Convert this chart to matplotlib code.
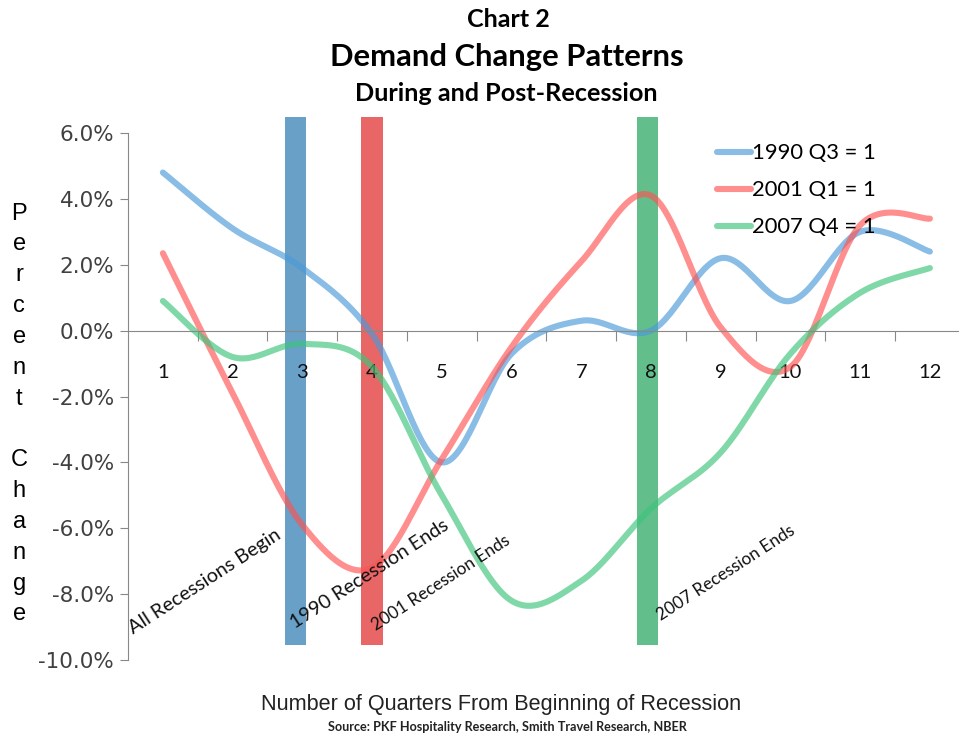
import matplotlib.pyplot as plt
import numpy as np

quarters = list(range(1, 13))
q1990 = [4.8, 3.1, 1.9, -0.1, -4.0, -0.7, 0.3, 0.0, 2.2, 0.9, 3.0, 2.4]
q2001 = [2.35, -1.9, -5.9, -7.2, -3.9, -0.5, 2.1, 4.1, 0.1, -1.1, 3.2, 3.4]
q2007 = [0.9, -0.8, -0.4, -1.1, -5.0, -8.2, -7.6, -5.4, -3.7, -0.7, 1.15, 1.9]
series_names = ['1990 Q3 = 1', '2001 Q1 = 1', '2007 Q4 = 1']

event_quarters = [2.9, 4.0, 7.95]
event_low, event_high = -9.55, 6.48
event_labels = ['All Recessions Begin', '1990 Recession Ends',
                '2001 Recession Ends', '2007 Recession Ends']
event_label_pos = [(0.57, -9.21), (2.89, -9.06), (4.06, -9.12), (8.14, -8.82)]
event_label_size = [14.2, 14.2, 12.4, 12.4]

yticks = [6, 4, 2, 0, -2, -4, -6, -8, -10]

line_colors = ['#4a9ad8', '#ff5252', '#3cc47a']
bar_colors = ['#68a0c8', '#e86666', '#62bf8c']

CAL = ['Lato', 'DejaVu Sans']


def smooth(xs, ys, n=30):
    # excel-ish smoothed line: bezier with catmull-rom control points
    p = np.column_stack([xs, ys]).astype(float)
    p = np.vstack([p[0], p, p[-1]])
    t = np.linspace(0, 1, n)[:, None]
    out = []
    for i in range(1, len(p) - 2):
        p0, p1, p2, p3 = p[i - 1], p[i], p[i + 1], p[i + 2]
        c1 = p1 + (p2 - p0) / 6
        c2 = p2 - (p3 - p1) / 6
        seg = ((1 - t) ** 3) * p1 + 3 * ((1 - t) ** 2) * t * c1 + 3 * (1 - t) * t ** 2 * c2 + t ** 3 * p2
        out.append(seg if i == 1 else seg[1:])
    out = np.vstack(out)
    return out[:, 0], out[:, 1]


fig = plt.figure(figsize=(9.59, 7.34), dpi=100)
ax = fig.add_axes([0.1335, 0.1008, 0.8725, 0.718])

for xq, c in zip(event_quarters, bar_colors):
    ax.bar(xq, event_high - event_low, bottom=event_low, width=0.31,
           color=c, zorder=1, clip_on=False)

for vals, c, name in zip([q1990, q2001, q2007], line_colors, series_names):
    sx, sy = smooth(quarters, vals)
    ax.plot(sx, sy, color=c, lw=4.4, alpha=0.65, solid_capstyle='round',
            label=name, zorder=2)

ax.set_xlim(0.5, 12.5)
ax.set_ylim(-10, 6)
ax.set_yticks(yticks)
ax.set_yticklabels(['%.1f%%' % v for v in yticks], fontsize=15.5, color='#404040')

ax.spines['top'].set_visible(False)
ax.spines['right'].set_visible(False)
ax.spines['left'].set_color('#888888')
ax.spines['bottom'].set_color('#888888')
ax.spines['bottom'].set_position(('data', 0))
ax.tick_params(axis='y', length=6, color='#888888', pad=4)

ax.set_xticks(np.arange(1.5, 12.5, 1.0))
ax.set_xticklabels([])
ax.tick_params(axis='x', which='major', length=7, color='#888888', direction='out')
ax.set_xticks(quarters, minor=True)
ax.set_xticklabels([str(q) for q in quarters], minor=True,
                   fontsize=14.5, family=CAL, color='#111111')
ax.tick_params(axis='x', which='minor', length=0, pad=24)

for txt, (tx, ty), fs in zip(event_labels, event_label_pos, event_label_size):
    ax.text(tx, ty, txt, rotation=33, rotation_mode='anchor', ha='left',
            va='baseline', fontsize=fs, family=CAL, color='#111111', zorder=3)

leg = ax.legend(loc='upper left', bbox_to_anchor=(0.68, 1.018), frameon=False,
                handlelength=1.55, handletextpad=0.05, labelspacing=0.78,
                prop={'family': CAL, 'size': 15.8})

fig.text(0.53, 0.973, 'Chart 2', ha='center', va='center', fontsize=18,
         fontweight='bold', family=CAL)
fig.text(0.528, 0.922, 'Demand Change Patterns', ha='center', va='center',
         fontsize=22.3, fontweight='bold', family=CAL)
fig.text(0.528, 0.873, 'During and Post-Recession', ha='center', va='center',
         fontsize=18.2, fontweight='bold', family=CAL)

fig.text(0.02, 0.436, '\n'.join('Percent Change'), ha='center', va='center',
         fontsize=17, linespacing=1.52, family=['Liberation Sans', 'DejaVu Sans'])

fig.text(0.522, 0.04, 'Number of Quarters From Beginning of Recession',
         ha='center', va='center', fontsize=15.6,
         family=['Liberation Sans Narrow', 'Liberation Sans', 'DejaVu Sans'],
         color='#222222')
fig.text(0.529, 0.009, 'Source: PKF Hospitality Research, Smith Travel Research, NBER',
         ha='center', va='center', fontsize=9.1, fontweight='bold', family=CAL,
         color='#222222')

fig.savefig('out.png', dpi=100)
